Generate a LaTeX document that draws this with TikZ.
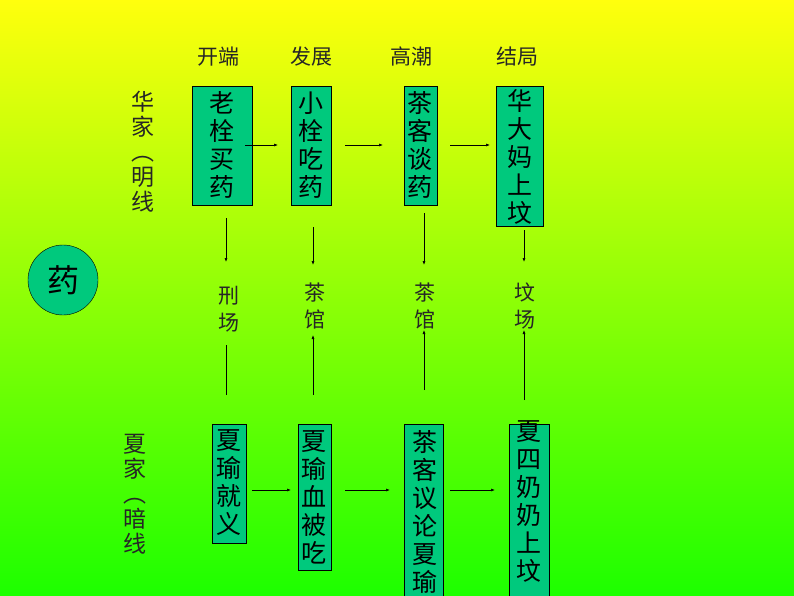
\documentclass[tikz,border=0pt]{standalone}
\usepackage{fontspec}
\usetikzlibrary{arrows.meta}
\setmainfont{Noto Sans CJK SC}
\begin{document}
\begin{tikzpicture}[x=1pt,y=-1pt,
  vt/.style={align=center,font=\fontsize{25}{28}\selectfont,inner sep=0pt},
  lab/.style={align=center,font=\fontsize{21}{27}\selectfont,inner sep=0pt,text=black!85},
  arrs/.style={-{Latex[length=4pt,width=3pt]},line width=0.6pt}]
\shade[top color=yellow!95!white,bottom color=green!85!lime] (0,0) rectangle (794,596);
\useasboundingbox (0,0) rectangle (794,596);
\colorlet{bx}{teal!60!cyan!70!green}
% headers
\node[lab] (h1) at (218,57) {开端};
\node[lab] (h2) at (311,57) {发展};
\node[lab] (h3) at (411,57) {高潮};
\node[lab] (h4) at (517,57) {结局};
% side labels
\node[lab,font=\fontsize{23}{25}\selectfont] (s1) at (143,152) {华\\家\\︵\\明\\线};
\node[lab,font=\fontsize{23}{25}\selectfont] (s2) at (135,494) {夏\\家\\︵\\暗\\线};
% circle
\node[circle,draw=black,fill=bx,minimum size=70pt,font=\fontsize{32}{32}\selectfont] (yao) at (63,280) {药};
% top boxes
\draw[fill=bx] (192,86) rectangle (252,205);
\node[vt] (t1) at (222,145) {老\\栓\\买\\药};
\draw[fill=bx] (291,86) rectangle (331,205);
\node[vt] (t2) at (311,145) {小\\栓\\吃\\药};
\draw[fill=bx] (404,86) rectangle (437,205);
\node[vt] (t3) at (420,145) {茶\\客\\谈\\药};
\draw[fill=bx] (496,86) rectangle (543,226);
\node[vt] (t4) at (520,157) {华\\大\\妈\\上\\坟};
% bottom boxes
\draw[fill=bx] (212,424) rectangle (246,543);
\node[vt] (b1) at (229,483) {夏\\瑜\\就\\义};
\draw[fill=bx] (298,424) rectangle (331,570);
\node[vt] (b2) at (314,497) {夏\\瑜\\血\\被\\吃};
\draw[fill=bx] (404,424) rectangle (443,600);
\node[vt] (b3) at (425,512) {茶\\客\\议\\论\\夏\\瑜};
\draw[fill=bx] (509,424) rectangle (549,600);
\node[vt] (b4) at (529,501) {夏\\四\\奶\\奶\\上\\坟};
% place labels
\node[lab] (p1) at (229,309) {刑\\场};
\node[lab] (p2) at (315,306) {茶\\馆};
\node[lab] (p3) at (425,306) {茶\\馆};
\node[lab] (p4) at (525,306) {坟\\场};
% horizontal arrows
\coordinate (a1) at (245,145); \coordinate (a2) at (278,145);
\coordinate (a3) at (345,145); \coordinate (a4) at (383,145);
\coordinate (a5) at (450,145); \coordinate (a6) at (490,145);
\draw[arrs] (a1)--(a2); \draw[arrs] (a3)--(a4); \draw[arrs] (a5)--(a6);
\coordinate (c1) at (252,490); \coordinate (c2) at (291,490);
\coordinate (c3) at (345,490); \coordinate (c4) at (390,490);
\coordinate (c5) at (450,490); \coordinate (c6) at (495,490);
\draw[arrs] (c1)--(c2); \draw[arrs] (c3)--(c4); \draw[arrs] (c5)--(c6);
% vertical arrows down
\coordinate (d1) at (226,218); \coordinate (e1) at (226,262);
\coordinate (d2) at (313,227); \coordinate (e2) at (313,265);
\coordinate (d3) at (424,213); \coordinate (e3) at (424,265);
\coordinate (d4) at (524,230); \coordinate (e4) at (524,262);
\draw[arrs] (d1)--(e1); \draw[arrs] (d2)--(e2); \draw[arrs] (d3)--(e3); \draw[arrs] (d4)--(e4);
% vertical arrows up
\coordinate (u1) at (226,395); \coordinate (v1) at (226,345);
\coordinate (u2) at (313,395); \coordinate (v2) at (313,335);
\coordinate (u3) at (424,390); \coordinate (v3) at (424,330);
\coordinate (u4) at (524,400); \coordinate (v4) at (524,330);
\draw[line width=0.6pt] (u1)--(v1); \draw[arrs] (u2)--(v2); \draw[arrs] (u3)--(v3); \draw[arrs] (u4)--(v4);
\end{tikzpicture}
\end{document}
